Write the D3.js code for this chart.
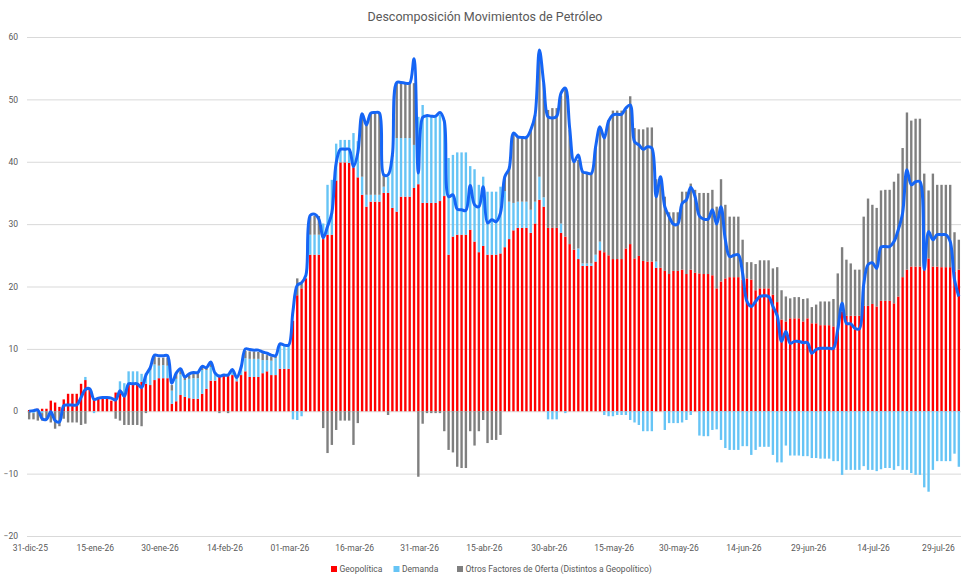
<!DOCTYPE html>
<html>
<head>
<meta charset="utf-8">
<script src="https://cdn.jsdelivr.net/npm/d3@7"></script>
<style>
body { margin:0; background:#fff; }
text { font-family: Roboto, "Noto Sans", sans-serif; fill:#595959; }
</style>
</head>
<body>
<svg id="chart"></svg>
<script>
// daily values, starting 31-dic-25
var startDate = new Date(2025, 11, 31);

var geopolitica = [
0.2,0.2,0.4,0.4,0.4,1.7,1.4,0.7,1.9,2.8,2.8,2.8,4.4,5.0,3.7,1.9,2.0,2.0,2.0,1.7,
3.0,2.9,2.5,4.2,4.3,4.3,4.7,4.4,4.2,5.0,5.3,5.3,5.3,1.2,1.6,2.6,2.3,2.1,2.0,2.0,
2.8,3.6,4.9,4.9,5.6,5.7,5.7,5.8,4.8,5.8,6.4,5.5,5.5,5.5,6.1,6.4,5.8,5.8,6.8,6.8,
6.8,14.5,18.6,19.7,21.3,25.1,25.1,25.1,27.6,28.3,28.3,37.0,39.9,39.9,39.8,39.1,37.5,34.7,32.8,33.6,
33.6,33.6,35.0,35.0,32.6,32.0,34.4,34.4,34.4,35.8,36.4,33.4,33.4,33.4,33.4,33.7,34.5,25.1,28.0,28.3,
28.3,28.3,29.1,27.2,25.5,26.5,25.1,25.1,25.1,25.3,26.3,27.6,29.0,29.4,29.4,29.4,28.6,30.1,33.9,32.8,
29.4,29.4,29.4,28.6,28.0,26.8,25.9,24.4,23.3,23.3,23.3,24.0,25.8,25.5,25.0,24.4,24.4,24.4,26.1,26.8,
24.5,24.9,24.1,24.0,24.0,23.0,23.0,22.5,22.0,22.5,22.5,22.7,22.0,22.7,22.2,22.1,22.0,22.0,21.8,19.7,
20.8,21.3,21.5,21.5,21.5,21.1,21.3,21.1,19.4,19.7,19.7,19.7,18.7,17.5,14.7,14.4,14.9,14.9,14.9,14.4,
14.9,14.1,14.1,13.8,13.8,13.8,13.6,13.1,16.0,15.3,15.3,15.3,15.3,16.9,16.9,17.2,16.8,17.7,17.7,17.7,
17.3,18.4,21.5,22.7,23.2,23.2,23.2,23.7,24.5,23.2,23.2,23.1,23.1,23.1,22.4,22.7
];

var demanda = [
0,-0.3,0,-0.3,0,0,0,0,0,0,0,0,0,0.5,0,-0.3,0,0,0,0,
0,1.9,2.0,2.2,2.1,2.1,1.3,1.7,2.4,2.5,2.0,2.1,2.0,2.1,3.6,3.3,2.7,3.1,3.3,3.3,
3.8,3.0,2.2,1.4,0.3,0.1,0.3,0.8,0.8,1.4,2.1,2.9,2.9,2.9,2.1,1.8,2.3,2.7,3.7,3.7,
3.7,-1.3,-1.4,-0.8,0,3.2,3.2,3.2,2.5,8.0,8.8,5.9,3.6,3.6,3.7,5.5,5.8,2.9,1.9,1.1,
1.1,1.1,1.0,2.6,8.2,11.8,9.4,9.4,9.4,6.9,10.8,15.7,14.1,14.1,14.1,13.8,12.2,15.5,13.1,13.2,
13.2,13.2,10.2,11.6,10.8,11.1,10.1,10.1,10.1,10.7,9.0,6.0,4.4,4.2,4.2,4.2,3.7,3.5,3.7,1.5,
-1.3,-1.3,-1.3,1.5,-0.3,0,0,1.7,0.4,0.4,0.4,1.1,1.4,-0.6,-0.8,-0.8,-0.6,-0.6,-0.6,-1.4,
-1.8,-2.2,-3.2,-3.2,-3.2,1.0,0,-3.0,-1.9,-1.9,-1.9,-1.8,-1.4,-0.6,0,-3.9,-4.0,-4.0,-3.0,-2.9,
-4.6,-5.9,-6.2,-6.2,-6.2,-5.6,-5.6,-7.0,-6.2,-5.7,-5.7,-5.7,-7.0,-8.2,-8.2,-5.5,-7.1,-7.1,-7.1,-7.2,
-7.2,-7.5,-7.5,-7.6,-7.6,-7.6,-8.0,-8.0,-10.2,-9.4,-9.4,-9.4,-9.4,-8.8,-9.4,-9.4,-9.6,-9.3,-9.1,-9.1,
-9.4,-8.8,-9.4,-9.4,-9.9,-10.2,-10.2,-12.2,-12.9,-9.4,-8.0,-8.0,-8.0,-8.0,-6.8,-8.9
];

var otrosOferta = [
-1.3,-1.0,-1.5,-1.2,-1.3,-1.8,-2.8,-2.4,-1.2,-1.8,-1.8,-1.8,-2.2,-2.0,0,0,0,0,0,0,
-1.2,-1.5,-2.2,-2.2,-2.2,-2.2,-2.4,-0.3,0.4,1.3,1.3,1.2,1.3,0.9,0.9,0.9,0.5,0.6,0.8,0.8,
0.6,0.5,0.7,0,-0.3,0,-0.3,0,0,0,1.2,1.2,1.2,1.1,1.1,0.8,0.7,0.3,0.2,0.1,
0,0,2.7,0.8,0,2.9,3.0,3.0,-2.7,-6.7,-5.4,-3.0,-1.5,-1.5,-1.5,-5.4,-1.9,10.2,11.2,13.1,
13.1,13.1,1.9,-0.6,0.3,8.8,8.8,8.7,8.7,9.9,-10.5,-2.0,-0.3,-0.3,-0.3,-0.3,-3.2,-6.2,-6.6,-8.9,
-9.1,-9.1,-3.2,-5.5,-3.2,-1.4,-5.1,-4.6,-4.6,-3.8,2.3,5.6,10.9,10.4,10.3,10.3,12.9,13.9,19.4,18.3,
18.9,19.2,19.2,20.5,23.5,18.3,14.1,14.2,14.7,14.5,14.4,17.3,18.2,18.4,21.7,23.8,23.8,23.8,22.2,23.7,
20.9,20.3,21.1,21.5,21.5,13.2,14.6,11.9,9.9,9.4,9.4,12.5,13.2,13.8,13.3,12.9,13.0,13.0,13.7,13.1,
16.4,11.8,9.7,9.7,9.7,6.4,2.6,2.8,4.2,4.5,4.5,4.5,4.2,5.6,4.7,4.0,3.2,3.4,3.4,3.6,
3.2,2.6,3.0,3.8,3.8,3.8,4.4,9.0,10.3,9.0,8.4,7.4,7.4,14.3,17.2,15.9,15.8,17.7,17.8,17.8,
19.5,19.7,20.7,25.2,23.4,23.7,23.7,14.4,10.9,14.9,13.1,13.2,13.2,13.2,6.3,4.8
];

var total = [
0.0,0.1,0.2,-1.2,-1.3,-0.1,-1.5,-1.7,0.9,1.0,1.0,1.0,2.2,3.5,3.6,1.9,2.1,2.2,2.2,2.1,
1.8,3.3,2.4,4.4,4.4,4.4,3.8,5.8,7.0,9.0,8.9,8.9,8.9,4.5,6.1,6.8,5.5,6.0,6.2,6.2,
7.2,7.0,7.9,6.1,5.6,5.8,5.8,6.7,5.4,7.0,10.0,9.9,9.8,9.8,9.5,9.3,9.0,8.9,10.8,10.6,
10.6,16.0,20.2,20.6,21.8,31.4,31.6,30.8,27.8,29.6,31.8,39.8,42.0,42.0,42.0,39.2,41.4,47.7,45.9,47.8,
47.9,47.8,37.9,37.9,41.1,52.7,52.7,52.6,52.6,56.5,38.2,47.1,47.4,47.3,47.3,47.9,46.5,34.4,34.7,32.4,
32.3,32.2,36.2,33.1,32.8,36.0,30.2,30.7,30.4,31.8,37.6,38.9,44.6,44.0,43.9,43.9,45.1,47.5,57.9,52.6,
47.2,47.0,47.3,51.0,51.8,45.4,40.0,41.1,38.4,38.2,38.1,42.4,45.6,43.8,46.5,47.5,47.6,47.6,48.6,49.1,
43.2,42.7,42.0,42.4,42.2,34.4,37.6,32.8,31.2,30.0,30.0,33.3,33.9,35.9,34.4,31.3,30.8,30.8,32.3,30.0,
32.8,27.5,24.8,25.0,25.1,22.1,17.6,16.8,17.6,18.4,18.5,18.4,16.8,15.3,11.2,12.8,10.9,11.2,11.2,11.0,
11.0,9.3,9.9,10.1,10.1,10.1,10.1,13.1,17.3,14.1,14.0,13.3,13.2,20.3,23.5,23.8,22.9,26.3,26.4,26.4,
27.2,29.1,31.8,38.7,36.3,36.8,36.8,22.7,28.8,27.5,28.3,28.3,28.3,27.2,21.1,18.4
];

var seriesNames = ["Geopolítica", "Demanda", "Otros Factores de Oferta (Distintos a Geopolítico)"];
var seriesColors = ["#ff0000", "#66c4f5", "#7f7f7f"];

var tickDays = [0,15,30,45,60,75,90,105,120,135,150,165,180,195,210];
var tickLabels = ["31-dic-25","15-ene-26","30-ene-26","14-feb-26","01-mar-26","16-mar-26","31-mar-26",
    "15-abr-26","30-abr-26","15-may-26","30-may-26","14-jun-26","29-jun-26","14-jul-26","29-jul-26"];
var yTicks = [-20,-10,0,10,20,30,40,50,60];

var screen = {width:971, height:583};
var plot = {left:27, right:961, top:37, bottom:536};

var svg = d3.select("#chart")
    .attr("width", screen.width)
    .attr("height", screen.height);

// table for the stack
var keys = ["geo", "dem", "otros"];
var rows = geopolitica.map(function(v, i)
{
    return {
        day: i,
        date: d3.timeDay.offset(startDate, i),
        geo: v,
        dem: demanda[i],
        otros: otrosOferta[i]
    };
});

var x = d3.scaleBand()
    .domain(rows.map(function(d){ return d.day; }))
    .range([plot.left, plot.right])
    .paddingInner(0.45)
    .paddingOuter(0.225);

var y = d3.scaleLinear()
    .domain([-20, 60])
    .range([plot.bottom, plot.top]);

// gridlines + y labels
var yAxis = svg.append("g")
    .attr("transform", "translate(" + plot.left + ",0)")
    .call(d3.axisLeft(y)
        .tickValues(yTicks)
        .tickSize(-(plot.right - plot.left))
        .tickPadding(9)
        .tickFormat(d3.format("d")));
yAxis.select(".domain").remove();
yAxis.selectAll(".tick line")
    .attr("stroke", "#d9d9d9")
    .attr("stroke-width", 1);
yAxis.selectAll(".tick text")
    .style("font-size", "8.5px")
    .style("fill", "#595959");

// bars
var stacked = d3.stack()
    .keys(keys)
    .offset(d3.stackOffsetDiverging)(rows);

svg.append("g")
    .selectAll("g")
    .data(stacked)
    .enter()
    .append("g")
    .attr("fill", function(s, k){ return seriesColors[k]; })
    .selectAll("rect")
    .data(function(s){ return s; })
    .enter()
    .append("rect")
    .attr("x", function(d){ return x(d.data.day); })
    .attr("width", x.bandwidth())
    .attr("y", function(d){ return y(Math.max(d[0], d[1])); })
    .attr("height", function(d){ return Math.abs(y(d[0]) - y(d[1])); });

// total line
var line = d3.line()
    .x(function(v, i){ return x(i) + x.bandwidth() / 2; })
    .y(function(v){ return y(v); })
    .curve(d3.curveCatmullRom.alpha(0.5));

svg.append("path")
    .datum(total)
    .attr("fill", "none")
    .attr("stroke", "#1565f5")
    .attr("stroke-width", 3)
    .attr("stroke-linejoin", "round")
    .attr("d", line);

// x labels
var xAxis = svg.append("g")
    .attr("transform", "translate(" + (x.bandwidth() / 2) + "," + plot.bottom + ")")
    .call(d3.axisBottom(x)
        .tickValues(tickDays)
        .tickSize(0)
        .tickPadding(9)
        .tickFormat(function(d, i){ return tickLabels[i]; }));
xAxis.select(".domain").remove();
xAxis.selectAll(".tick text")
    .style("font-size", "8.5px")
    .style("fill", "#595959");

// title
svg.append("text")
    .attr("x", 485)
    .attr("y", 20.5)
    .attr("text-anchor", "middle")
    .style("font-size", "12.5px")
    .text("Descomposición Movimientos de Petróleo");

// legend
var legendX = [331, 393.5, 457];
var legend = svg.append("g")
    .selectAll("g")
    .data(seriesNames)
    .enter()
    .append("g")
    .attr("transform", function(d, i){ return "translate(" + legendX[i] + ",569)"; });

legend.append("rect")
    .attr("x", 0)
    .attr("y", -3)
    .attr("width", 6)
    .attr("height", 6)
    .attr("fill", function(d, i){ return seriesColors[i]; });

legend.append("text")
    .attr("x", 8.5)
    .attr("y", 3)
    .style("font-size", "8.5px")
    .text(function(d){ return d; });
</script>
</body>
</html>
